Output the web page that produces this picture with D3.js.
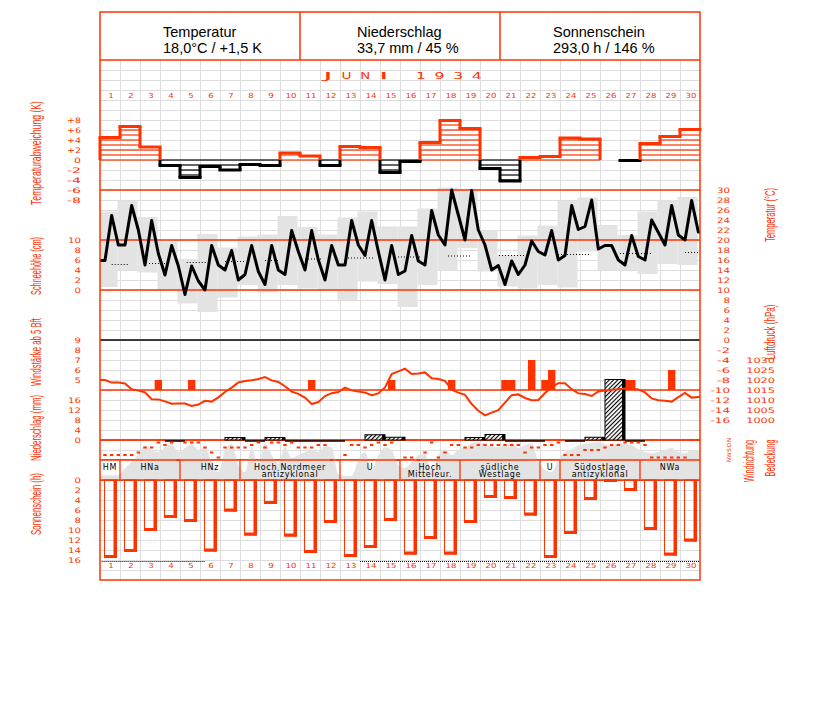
<!DOCTYPE html>
<html><head><meta charset="utf-8">
<script src="https://cdn.jsdelivr.net/npm/d3@7"></script>
<style>body{margin:0;background:#fff}svg{display:block}</style>
</head><body>
<svg id="c" width="827" height="702"></svg>
<script>
// ---------------- DATA ----------------
const days = d3.range(1, 31);
const headerTitles = ["Temperatur", "Niederschlag", "Sonnenschein"];
const headerValues = ["18,0°C / +1,5 K", "33,7 mm / 45 %", "293,0 h / 146 %"];
const monthTitle = ["J","U","N","I"," ","1","9","3","4"];

// daily temperature deviation (K)
const tempDev = [4.5,6.7,2.6,-1.1,-3.5,-1.3,-2.0,-0.9,-1.1,1.4,0.8,-1.1,2.7,2.5,-2.5,
                 -0.3,3.5,7.9,6.3,-1.7,-4.2,0.5,0.7,4.4,4.2,0.0,-0.1,3.3,4.7,6.1];
// temperature at 7h, 14h, 21h (°C)
const temp7  = [15.9,19.0,15.0,13.0,9.1,10.0,14.0,13.1,11.1,13.1,14.0,12.0,15.0,16.9,12.0,
                13.8,15.0,19.0,20.0,19.0,11.1,15.0,17.0,16.9,22.7,18.9,15.0,16.0,19.0,20.0];
const temp14 = [24.9,26.9,23.9,18.9,14.8,18.9,17.9,18.9,18.9,21.9,21.9,18.9,23.9,23.9,18.9,
                20.9,25.9,30.0,29.9,14.0,15.8,19.8,21.9,26.9,28.0,18.9,20.9,24.0,26.9,27.9];
const temp21 = [19.0,22.0,17.3,14.8,11.8,15.0,12.0,13.7,14.0,17.7,16.0,15.0,19.0,17.7,13.1,
                15.8,21.0,25.0,22.0,14.9,13.1,17.7,16.0,22.1,18.2,16.0,16.7,21.5,21.0,21.6];
// daily max / min (°C)
const tMax = [25.7,27.9,24.6,19.7,16.2,21.2,18.5,20.7,21.1,24.8,22.6,21.1,24.5,25.7,22.7,
              22.7,26.3,30.5,30.2,22.0,17.0,20.9,22.9,27.8,28.5,23.0,21.0,25.7,28.0,28.6];
const tMin = [10.6,14.0,13.5,10.0,7.3,5.6,8.5,11.0,9.5,11.0,10.3,10.0,8.0,11.7,11.2,
              6.6,11.0,13.8,18.4,13.7,10.7,10.3,11.0,10.5,17.7,14.0,14.0,13.2,15.2,15.0];
// long-term normal (dotted segments): start day, end day, °C
const normStart = [0.585,2.45,4.335,6.25,8.25,10.25,12.4,14.9,17.4,19.95,22.9,26.0,29.25];
const normEnd   = [1.415,3.335,5.335,7.25,9.0,11.15,13.65,16.1,18.6,21.35,24.5,27.6,30.0];
const normTemp  = [15.1,15.3,15.5,15.7,15.9,16.2,16.4,16.6,16.8,16.9,17.1,17.3,17.5];

// air pressure hPa at 7h, 14h, 21h
const pressure = [1020.0,1018.7,1018.7, 1018.3,1015.4,1014.7, 1013.8,1010.4,1010.3, 1009.3,1008.1,1008.3,
  1008.2,1007.0,1007.7, 1009.6,1009.2,1011.3, 1014.0,1016.2,1018.8, 1019.5,1019.9,1020.5,
  1021.5,1019.8,1019.0, 1016.9,1014.2,1013.1, 1011.2,1008.0,1009.0, 1012.0,1013.4,1014.0,
  1016.2,1014.8,1014.2, 1013.7,1012.4,1013.3, 1016.3,1023.0,1024.3, 1025.7,1023.0,1023.3,
  1023.8,1020.9,1020.5, 1019.6,1015.2,1013.7, 1012.6,1008.0,1004.6, 1002.3,1003.7,1004.9,
  1008.7,1012.4,1012.8, 1011.0,1009.9,1010.0, 1013.5,1016.4,1018.4, 1018.4,1015.4,1013.3,
  1013.0,1012.0,1014.3, 1014.8,1015.1,1015.4, 1015.8,1015.6,1015.3, 1013.8,1010.8,1009.9,
  1009.6,1009.2,1011.4, 1013.5,1011.2,1011.5];

// wind force >= 5 Bft: day, observation (0=7h,1=14h,2=21h), Beaufort
const windDay = [3,5,11,15,18,21,21,22,23,23,27,27,29];
const windObs = [2,1,1,1,1,0,1,1,0,1,0,1,1];
const windBft = [5,5,5,5,5,5,5,7,5,6,5,5,6];

// precipitation mm (null = none, 0 = trace)
const precip = [null,null,null,0,null,null,1.0,0,1.0,0,0,0,null,2.1,1.1,
                null,null,null,1.0,2.2,0,0,null,0,1.1,24.2,0,null,null,null];

// wind direction (degrees) at 7h, 14h, 21h
const windDir = [270,270,270, 270,270,225, 135,135,45, 90,45,360, 45,45,45, 135,225,315,
  135,135,135, 135,90,45, 135,45,45, 90,45,135, 135,135,90, 90,360,360, 270,90,90,
  135,90,45, 90,45,360, 315,315,360, 225,45,315, 225,90,90, 135,135,90, 90,90,90,
  90,90,90, 225,135,135, 90,90,45, 270,270,270, 180,180,180, 135,90,90, 45,45,45,
  90,315,315, 315,315,315, 315,0,0];

// cloud cover (tenths) at 7h, 14h, 21h
const cloud = [1.2,1.2,1.2, 3,4.5,6.5, 8.6,7.5,7.0, 8.2,9,7, 8,9,7.5, 8.2,4.5,2,
  7.5,9,3.7, 2,8.2,3.7, 9.2,6.2,4.2, 8.2,5.5,6.2, 7,7.5,7, 8.5,8.2,1.5, 1,1,5,
  7,2.5,6.2, 8.2,7.5,3.7, 3,4.5,6.2, 6.5,2.5,6.2, 7.7,6.2,7.5, 8.2,9.2,9.5, 9,8.5,8.2,
  8.7,9.2,8, 8.7,9.2,4.5, 2.5,2,5, 7,7.7,8.7, 9,9.2,9.5, 9,8.7,9.2, 9,8.7,7.7,
  7,6.7,7, 7.5,8,7, 6.7,7.5,7.5];

// sunshine hours
const sunshine = [15.5,14.3,10.1,7.5,8.3,14.2,6.2,11.0,4.7,11.2,14.5,8.5,15.3,13.5,8.1,
                  14.8,11.7,14.8,8.5,3.5,3.7,7.0,15.5,10.7,3.9,0.3,2.1,9.9,15.0,12.2];

// Grosswetterlagen
const gwlStart = [1,2,5,8,13,16,19,23,24,28];
const gwlEnd   = [1,4,7,12,15,18,22,23,27,30];
const gwlLine1 = ["HM","HNa","HNz","Hoch Nordmeer","U","Hoch","südliche","U","Südostlage","NWa"];
const gwlLine2 = ["","","","antizyklonal","","Mitteleur.","Westlage","","antizyklonal",""];

// dotted marker line at bottom (day ranges)
const dotStart = [0.08, 13.0];
const dotEnd   = [5.25, 30.0];

// tick labels
const devTicks = [8,6,4,2,0,-2,-4,-6,-8];
const snowTicks = [0,2,4,6,8,10];
const windTicks = [5,6,7,8,9];
const precTicks = [0,4,8,12,16];
const sunTicks = [0,2,4,6,8,10,12,14,16];
const tempTicks = d3.range(-16, 31, 2);
const presTicks = [1000,1005,1010,1015,1020,1025,1030];
const dirLetters = ["N","O","S","W","N"];

// ---------------- DRAWING ----------------
const RED = "#ff3300", GRID = "#dddddd", GRAY = "#e3e3e3";
const svg = d3.select("#c");
svg.append("rect").attr("width",827).attr("height",702).attr("fill","#fff");

const defs = svg.append("defs");
const pat = defs.append("pattern").attr("id","hatch").attr("width",3).attr("height",3)
  .attr("patternUnits","userSpaceOnUse").attr("patternTransform","rotate(45)");
pat.append("rect").attr("width",3).attr("height",3).attr("fill","#fff");
pat.append("line").attr("x1",0.5).attr("y1",0).attr("x2",0.5).attr("y2",3).attr("stroke","#000").attr("stroke-width",1.2);

const x = d3.scaleLinear().domain([0,30]).range([100,700]);
const yDev = d3.scaleLinear().domain([-8,8]).range([200,120]);
const yT = d3.scaleLinear().domain([-16,30]).range([420,190]);
const ySnow = d3.scaleLinear().domain([0,10]).range([290,240]);
const yP = d3.scaleLinear().domain([1000,1030]).range([420,360]);
const yW = d3.scaleLinear().domain([4,9]).range([390,340]);
const yR = d3.scaleLinear().domain([0,16]).range([440,400]);
const yC = d3.scaleLinear().domain([0,10]).range([480,440]);
const yDir = d3.scaleLinear().domain([0,360]).range([440,460]);
const yS = d3.scaleLinear().domain([0,16]).range([480,560]);
const obsPos = (d, k) => d - 1 + (k + 0.75) / 3;   // day d (1-based), obs k
const ox = i => x(obsPos(Math.floor(i/3)+1, i%3));

// grid
const grid = svg.append("g").attr("stroke",GRID).attr("stroke-width",1).attr("shape-rendering","crispEdges");
d3.range(1,30).forEach(i=>{
  grid.append("line").attr("x1",x(i)).attr("x2",x(i)).attr("y1",60).attr("y2",460);
  grid.append("line").attr("x1",x(i)).attr("x2",x(i)).attr("y1",480).attr("y2",580);
});
d3.range(70,580,10).filter(v=>v!==470).forEach(v=>{
  grid.append("line").attr("x1",100).attr("x2",700).attr("y1",v).attr("y2",v);
});

// ---- temperature panel: gray min-max blocks ----
const gT = svg.append("g");
tMax.forEach((mx,i)=>{
  const x0 = Math.max(100, x(i) - 2.5), x1 = x(i+1) - 2.5;
  gT.append("rect").attr("x",x0).attr("width",x1-x0).attr("y",yT(mx)).attr("height",yT(tMin[i])-yT(mx)).attr("fill",GRAY);
});

// red reference lines
const redLines = [yDev(-6), ySnow(10), ySnow(0), yW(4), yR(0), 460, yS(0)];
redLines.forEach(v=> svg.append("line").attr("x1",100).attr("x2",700).attr("y1",v).attr("y2",v)
  .attr("stroke",RED).attr("stroke-width",1.3));
svg.append("line").attr("x1",100).attr("x2",700).attr("y1",yT(0)).attr("y2",yT(0)).attr("stroke","#000").attr("stroke-width",1.3);

// normal temperature dotted segments
normStart.forEach((s,i)=>{
  svg.append("line").attr("x1",x(s)).attr("x2",x(normEnd[i])).attr("y1",yT(normTemp[i])).attr("y2",yT(normTemp[i]))
    .attr("stroke","#000").attr("stroke-width",1).attr("stroke-dasharray","1,2");
});

// temperature line
const tPts = [];
days.forEach((d,i)=>{
  tPts.push([x(obsPos(d,0)), yT(temp7[i])]);
  tPts.push([x(obsPos(d,1)), yT(temp14[i])]);
  tPts.push([x(obsPos(d,2)), yT(temp21[i])]);
});
tPts.unshift([x(0), yT(temp7[0])]);
tPts.push([x(30), yT(temp21[29])]);
svg.append("path").attr("d", d3.line()(tPts)).attr("fill","none").attr("stroke","#000").attr("stroke-width",3).attr("stroke-linejoin","round");

// ---- temperature deviation ----
const gD = svg.append("g");
tempDev.forEach((v,i)=>{
  const col = v >= 0 ? RED : "#000";
  const s = v >= 0 ? 1 : -1;
  const n = Math.floor(Math.abs(v));
  if (v !== 0) {
    d3.range(0, n+1).forEach(j=>{
      if (j < Math.abs(v))
        gD.append("line").attr("x1",x(i)).attr("x2",x(i+1)).attr("y1",yDev(s*j)).attr("y2",yDev(s*j)).attr("stroke",col).attr("stroke-width",1.2);
    });
  }
});
tempDev.forEach((v,i)=>{
  const prev = i === 0 ? 0 : tempDev[i-1];
  const lo = Math.min(prev, v), hi = Math.max(prev, v);
  if (hi > 0) gD.append("line").attr("x1",x(i)).attr("x2",x(i)).attr("y1",yDev(Math.max(lo,0))).attr("y2",yDev(hi)).attr("stroke",RED).attr("stroke-width",3);
  if (lo < 0) gD.append("line").attr("x1",x(i)).attr("x2",x(i)).attr("y1",yDev(Math.min(hi,0))).attr("y2",yDev(lo)).attr("stroke","#000").attr("stroke-width",3);
  if (v !== 0) gD.append("line").attr("x1",x(i)-1.5).attr("x2",x(i+1)+1.5).attr("y1",yDev(v)).attr("y2",yDev(v))
      .attr("stroke", v>0?RED:"#000").attr("stroke-width",3);
});

// ---- cloud cover area (behind band) ----
svg.append("rect").attr("x",100).attr("y",460).attr("width",600).attr("height",20).attr("fill","#fff");
const cPts = cloud.map((c,i)=>[ox(i), yC(c)]);
cPts.unshift([x(0), yC(cloud[0])]);
cPts.push([x(30), yC(cloud[89])]);
svg.append("path").attr("d", d3.area().x(d=>d[0]).y0(yC(0)).y1(d=>d[1]).curve(d3.curveMonotoneX)(cPts))
  .attr("fill",GRAY);
[440,460,480].forEach(v=> svg.append("line").attr("x1",100).attr("x2",700).attr("y1",v).attr("y2",v).attr("stroke",RED).attr("stroke-width",1.3));

// ---- wind bars ----
windDay.forEach((d,i)=>{
  const cx = x(obsPos(d, windObs[i]));
  svg.append("rect").attr("x",cx-3.7).attr("width",7.4).attr("y",yW(windBft[i])).attr("height",yW(4)-yW(windBft[i])).attr("fill",RED);
});

// ---- precipitation ----
precip.forEach((p,i)=>{
  if (p === null) return;
  const x0 = x(i) + 5, x1 = x(i+1) + 5;
  if (p === 0) {
    svg.append("line").attr("x1",x0).attr("x2",x1).attr("y1",441).attr("y2",441).attr("stroke","#000").attr("stroke-width",1.5);
  } else {
    svg.append("rect").attr("x",x0).attr("y",yR(p)).attr("width",x1-x0).attr("height",yR(0)-yR(p))
      .attr("fill","url(#hatch)").attr("stroke","#000").attr("stroke-width",1);
    svg.append("rect").attr("x",x1-3).attr("y",yR(p)).attr("width",3).attr("height",yR(0)-yR(p)).attr("fill","#000");
  }
});

// ---- pressure line ----
const pPts = pressure.map((p,i)=>[ox(i), yP(p)]);
pPts.unshift([x(0), yP(pressure[0])]);
pPts.push([x(30), yP(pressure[89])]);
svg.append("path").attr("d", d3.line()(pPts)).attr("fill","none").attr("stroke",RED).attr("stroke-width",2);

// ---- wind direction dots ----
windDir.forEach((w,i)=>{
  svg.append("rect").attr("x",ox(i)-1.7).attr("y",yDir(w)-1).attr("width",3.4).attr("height",2).attr("fill",RED);
});

// ---- weather types ----
const gG = svg.append("g");
gwlStart.forEach((s,i)=>{
  const x0 = x(s-1), x1 = x(gwlEnd[i]);
  if (i>0) gG.append("line").attr("x1",x0).attr("x2",x0).attr("y1",460).attr("y2",480).attr("stroke",RED).attr("stroke-width",1.3);
  const cx = (x0+x1)/2;
  const two = gwlLine2[i] !== "";
  gG.append("text").attr("x",cx).attr("y", 469.5).attr("text-anchor","middle")
    .attr("font-family","DejaVu Sans").attr("font-size",8).attr("letter-spacing",0.7).attr("fill","#000").text(gwlLine1[i]);
  if (two) gG.append("text").attr("x",cx).attr("y", 477).attr("text-anchor","middle")
    .attr("font-family","DejaVu Sans").attr("font-size",8).attr("letter-spacing",0.7).attr("fill","#000").text(gwlLine2[i]);
});

// ---- sunshine bars ----
sunshine.forEach((s,i)=>{
  const x0 = x(i) + 4.5, w = 12;
  const yb = yS(s);
  svg.append("rect").attr("x",x0).attr("y",yS(0)).attr("width",w).attr("height",yb-yS(0)).attr("fill","none").attr("stroke",RED).attr("stroke-width",1);
  svg.append("rect").attr("x",x0+w-3).attr("y",yS(0)).attr("width",3).attr("height",yb-yS(0)+0.5).attr("fill",RED);
  svg.append("rect").attr("x",x0).attr("y",yb-2.5).attr("width",w).attr("height",3).attr("fill",RED);
});

// dotted bottom line
dotStart.forEach((s,i)=>{
  svg.append("line").attr("x1",x(s)).attr("x2",x(dotEnd[i])).attr("y1",561.5).attr("y2",561.5)
    .attr("stroke","#000").attr("stroke-width",1).attr("stroke-dasharray","1,1");
});

// ---- frame & header ----
const fr = svg.append("g").attr("stroke",RED).attr("stroke-width",1.5).attr("fill","none");
fr.append("rect").attr("x",100).attr("y",12).attr("width",600).attr("height",568);
fr.append("line").attr("x1",100).attr("x2",700).attr("y1",60).attr("y2",60);
fr.append("line").attr("x1",300).attr("x2",300).attr("y1",12).attr("y2",60);
fr.append("line").attr("x1",500).attr("x2",500).attr("y1",12).attr("y2",60);
const headX = [163, 357, 553];
headerTitles.forEach((t,i)=>{
  svg.append("text").attr("x",headX[i]).attr("y",37).attr("font-family","Liberation Sans, Arial, sans-serif").attr("font-size",14.5).attr("fill","#000").text(t);
  svg.append("text").attr("x",headX[i]).attr("y",53).attr("font-family","Liberation Sans, Arial, sans-serif").attr("font-size",14.5).attr("fill","#000").text(headerValues[i]);
});

// pixel-style label helper
function pix(str, xx, yy, anchor, w, fs) {
  svg.append("text").attr("x",xx).attr("y",yy).attr("text-anchor",anchor)
    .attr("font-family","DejaVu Sans, sans-serif").attr("font-size",fs||7.5).attr("fill",RED)
    .attr("dominant-baseline","central")
    .attr("textLength", str.length*w).attr("lengthAdjust","spacingAndGlyphs").text(str);
}
monthTitle.forEach((c,i)=>{ if (c!==" ") pix(c, 328 + i*18.6, 75, "middle", 10, 9.5); });
days.forEach((d,i)=>{
  const s = String(d);
  pix(s, x(i+0.5)+1, 96, "middle", 5.5, 7);
  pix(s, x(i+0.5)+1, 566, "middle", 5.5, 7);
});
const fmtDev = v => v>0 ? "+"+v : String(v);
devTicks.forEach(v=> pix(fmtDev(v), 81, yDev(v), "end", 7, 7.5));
snowTicks.forEach(v=> pix(String(v), 81, ySnow(v), "end", 6.5, 7.5));
windTicks.forEach(v=> pix(String(v), 81, yW(v), "end", 6.5, 7.5));
precTicks.forEach(v=> pix(String(v), 81, yR(v), "end", 6.5, 7.5));
sunTicks.forEach(v=> pix(String(v), 81, yS(v), "end", 6.5, 7.5));
tempTicks.forEach(v=> pix(String(v), 730, yT(v), "end", 6.5, 7.5));
presTicks.forEach(v=> pix(String(v), 775, yP(v), "end", 7.2, 7.5));
dirLetters.forEach((c,i)=>{
  svg.append("text").attr("transform",`translate(729,${yDir(i*90)}) rotate(-90)`).attr("text-anchor","middle")
    .attr("dominant-baseline","central").attr("font-family","DejaVu Sans").attr("font-size",5.5).attr("fill",RED).text(c);
});

// rotated axis titles
function vlabel(str, cx, cy, len) {
  svg.append("text").attr("transform",`translate(${cx},${cy}) rotate(-90)`).attr("text-anchor","middle")
    .attr("dominant-baseline","central").attr("font-family","Liberation Sans Narrow, Liberation Sans, Arial, sans-serif")
    .attr("font-size",14).attr("fill",RED).attr("textLength",len).attr("lengthAdjust","spacingAndGlyphs").text(str);
}
vlabel("Temperaturabweichung (K)", 36, 153, 104);
vlabel("Schneehöhe (cm)", 36, 266, 58);
vlabel("Windstärke ab 5 Bft", 36, 352, 68);
vlabel("Niederschlag (mm)", 36, 428, 66);
vlabel("Sonnenschein (h)", 36, 504, 62);
vlabel("Temperatur (°C)", 770, 215, 54);
vlabel("Luftdruck (hPa)", 770, 332, 55);
vlabel("Windrichtung", 749, 461, 42);
vlabel("Bedeckung", 770, 458, 37);
</script>
</body></html>
